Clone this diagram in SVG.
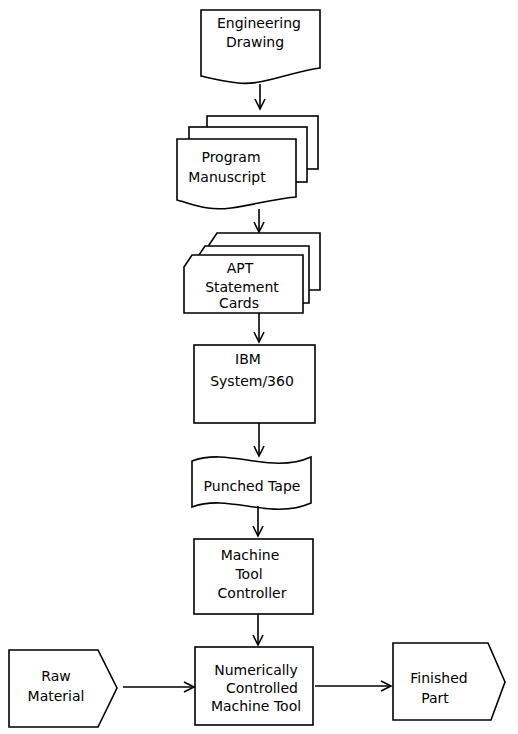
<svg xmlns="http://www.w3.org/2000/svg" width="518" height="734" viewBox="0 0 518 734">
<defs>
<style>
.s{fill:#fff;stroke:#000;stroke-width:1.6;stroke-linejoin:miter}
.c{fill:none;stroke:#000;stroke-width:1.6}
text{font-family:"DejaVu Sans","Liberation Sans",sans-serif;font-size:14px;fill:#000;text-anchor:middle}
</style>
<marker id="ah" markerUnits="userSpaceOnUse" markerWidth="14" markerHeight="14" refX="11" refY="6" orient="auto" viewBox="0 0 14 12">
<path d="M1,1 L11,6 L1,11" fill="none" stroke="#000" stroke-width="1.6"/>
</marker>
</defs>
<rect width="518" height="734" fill="#fff"/>

<g id="engineering-drawing">
<path class="s" d="M201,10 H320 V68 C290,72 262,86 238,83 C222,81 210,78 201,76 Z"/>
<text x="259" y="28">Engineering</text>
<text x="255" y="47">Drawing</text>
</g>

<g id="program-manuscript">
<rect class="s" x="207" y="116" width="111" height="53"/>
<rect class="s" x="189" y="127" width="118" height="55"/>
<path class="s" d="M177,139 H296 V197 C262,200 232,212 208,208 C195,206 185,202 177,200 Z"/>
<text x="231" y="162">Program</text>
<text x="227" y="182">Manuscript</text>
</g>

<g id="apt-statement-cards">
<path class="s" d="M209,245 L217,233 H320 V290 H209 Z"/>
<path class="s" d="M197,258 L205,246 H309 V303 H197 Z"/>
<path class="s" d="M184,267 L192,255 H303 V313 H184 Z"/>
<text x="240" y="273">APT</text>
<text x="242" y="292">Statement</text>
<text x="239" y="308">Cards</text>
</g>

<g id="ibm-system-360">
<rect class="s" x="194" y="345" width="121" height="78"/>
<text x="248" y="364">IBM</text>
<text x="252" y="386">System/360</text>
</g>

<g id="punched-tape">
<path class="s" d="M192,461 C230,447 270,475 311,457 V503 C270,521 230,493 192,507 Z"/>
<text x="252" y="491">Punched Tape</text>
</g>

<g id="machine-tool-controller">
<rect class="s" x="194" y="539" width="119" height="75"/>
<text x="250" y="560">Machine</text>
<text x="249" y="579">Tool</text>
<text x="252" y="598">Controller</text>
</g>

<g id="nc-machine-tool">
<rect class="s" x="195" y="647" width="118" height="78"/>
<text x="256" y="675">Numerically</text>
<text x="262" y="693">Controlled</text>
<text x="256" y="711">Machine Tool</text>
</g>

<g id="raw-material">
<path class="s" d="M9,650 H98 L117,688 L98,727 H9 Z"/>
<text x="56" y="681">Raw</text>
<text x="56" y="701">Material</text>
</g>

<g id="finished-part">
<path class="s" d="M393,643 H488 L505,682 L491,720 H393 Z"/>
<text x="439" y="683">Finished</text>
<text x="435" y="703">Part</text>
</g>

<g id="connectors">
<line class="c" x1="260" y1="84" x2="260" y2="109" marker-end="url(#ah)"/>
<line class="c" x1="259" y1="209" x2="259" y2="232" marker-end="url(#ah)"/>
<line class="c" x1="259" y1="313" x2="259" y2="342" marker-end="url(#ah)"/>
<line class="c" x1="259" y1="423" x2="259" y2="456" marker-end="url(#ah)"/>
<line class="c" x1="258" y1="506" x2="258" y2="536" marker-end="url(#ah)"/>
<line class="c" x1="258" y1="614" x2="258" y2="645" marker-end="url(#ah)"/>
<line class="c" x1="123" y1="687" x2="194" y2="687" marker-end="url(#ah)"/>
<line class="c" x1="315" y1="686" x2="391" y2="686" marker-end="url(#ah)"/>
</g>
</svg>
